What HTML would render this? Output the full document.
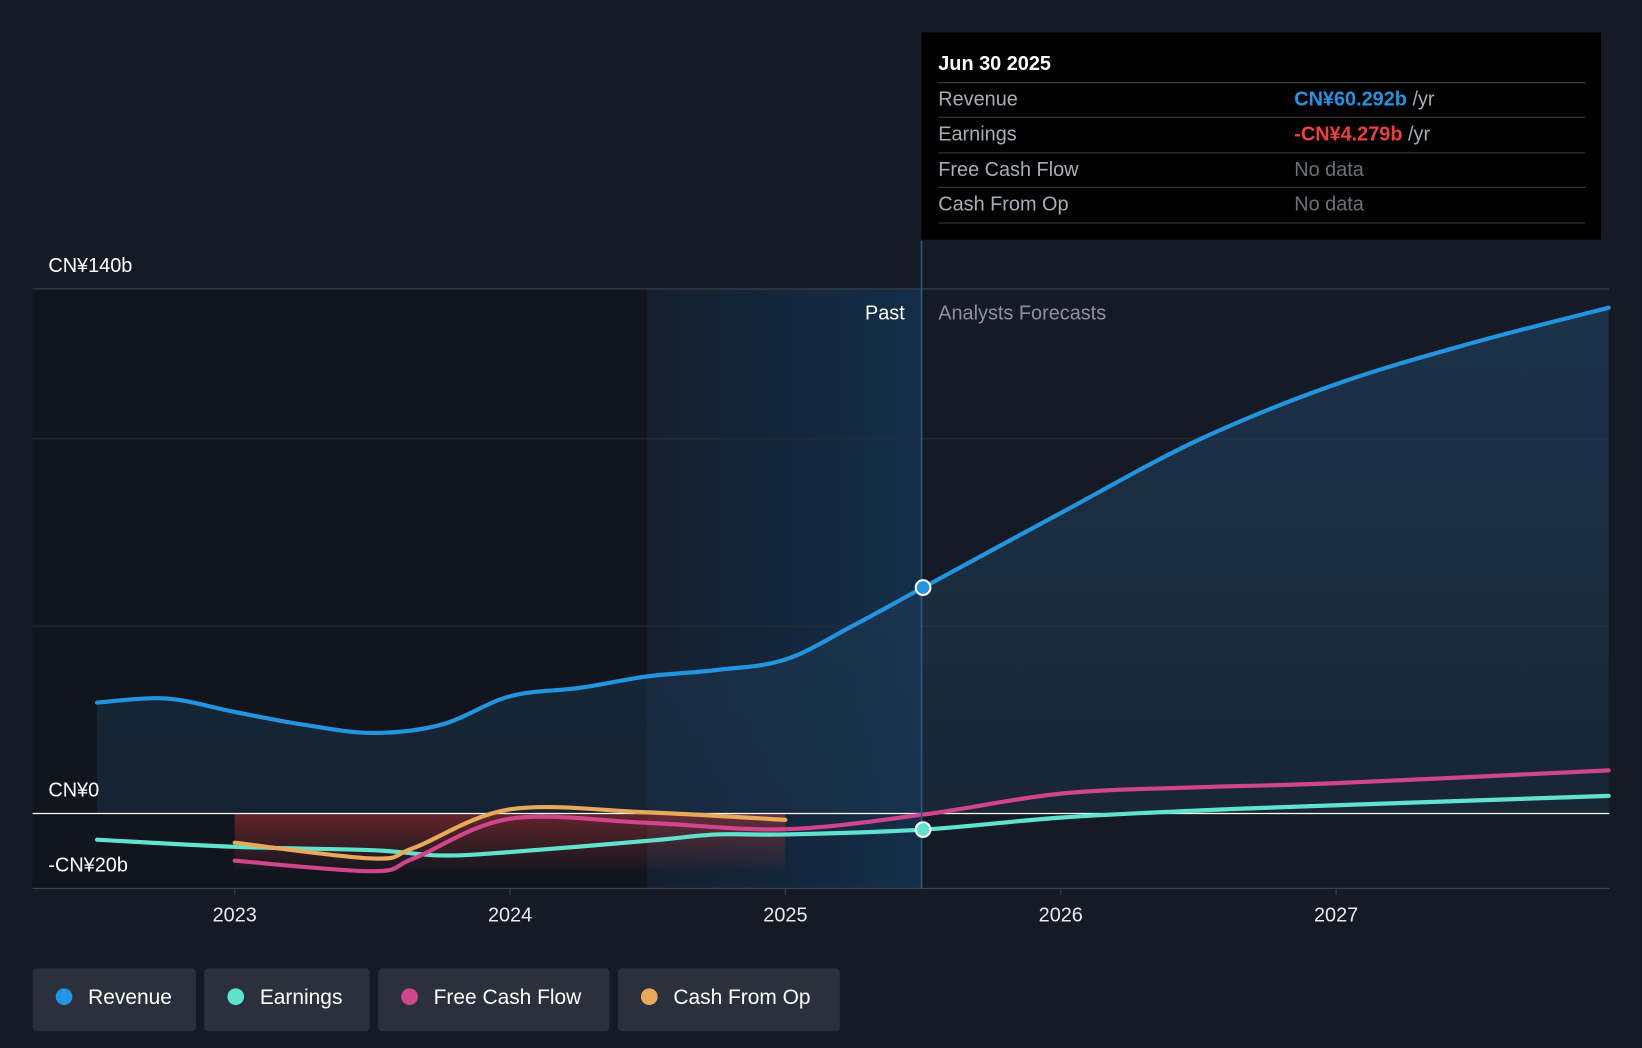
<!DOCTYPE html>
<html><head><meta charset="utf-8"><style>
html,body{margin:0;padding:0;background:#151b24;}
svg{display:block;font-family:"Liberation Sans",sans-serif;}
</style></head><body>
<svg id="chart" width="1642" height="1048" viewBox="0 0 1568 1001" xmlns="http://www.w3.org/2000/svg">
<defs>
<linearGradient id="revFill" x1="0" y1="0" x2="0" y2="1"><stop offset="0" stop-color="#1e3a56" stop-opacity="0.75"/><stop offset="1" stop-color="#1e3a56" stop-opacity="0.35"/></linearGradient>
<linearGradient id="redFill" x1="0" y1="0" x2="0" y2="1"><stop offset="0" stop-color="#d9393b" stop-opacity="0.75"/><stop offset="1" stop-color="#d9393b" stop-opacity="0.05"/></linearGradient>
<linearGradient id="pastHi" x1="0" y1="0" x2="1" y2="0"><stop offset="0" stop-color="#13253a" stop-opacity="0.5"/><stop offset="1" stop-color="#14314f" stop-opacity="0.9"/></linearGradient>
</defs>
<rect width="1568" height="1001" fill="#151b24"/>
<rect x="31" y="276" width="587" height="573" fill="#11161e"/>
<rect x="618" y="276" width="262" height="573" fill="url(#pastHi)"/>
<g id="grid"></g>
<g id="areas"></g>
<g id="lines"></g>
<line x1="880" y1="230" x2="880" y2="849" stroke="#2f5a80" stroke-width="1.5"/>
<text x="864" y="305" fill="#ffffff" font-size="19" text-anchor="end">Past</text>
<text x="896" y="305" fill="#8b929c" font-size="19">Analysts Forecasts</text>
<g id="ylabels"></g>
<g id="xlabels"></g>
<g id="dots"></g>
<g>
<rect x="880" y="31" width="649" height="198" fill="#000000"/>
<text x="896" y="67" fill="#fff" font-size="19" font-weight="bold">Jun 30 2025</text>
<line x1="896" y1="79" x2="1514" y2="79" stroke="#3a3f46"/>
<text x="896" y="101" fill="#a7adb5" font-size="19">Revenue</text>
<text x="1236" y="101" font-size="19"><tspan fill="#2394df" font-weight="bold">CN¥60.292b</tspan><tspan fill="#a7adb5"> /yr</tspan></text>
<line x1="896" y1="112" x2="1514" y2="112" stroke="#3a3f46"/>
<text x="896" y="134" fill="#a7adb5" font-size="19">Earnings</text>
<text x="1236" y="134" font-size="19"><tspan fill="#ee4040" font-weight="bold">-CN¥4.279b</tspan><tspan fill="#a7adb5"> /yr</tspan></text>
<line x1="896" y1="146" x2="1514" y2="146" stroke="#3a3f46"/>
<text x="896" y="168" fill="#a7adb5" font-size="19">Free Cash Flow</text>
<text x="1236" y="168" fill="#6b7178" font-size="19">No data</text>
<line x1="896" y1="179" x2="1514" y2="179" stroke="#3a3f46"/>
<text x="896" y="201" fill="#a7adb5" font-size="19">Cash From Op</text>
<text x="1236" y="201" fill="#6b7178" font-size="19">No data</text>
<line x1="896" y1="213" x2="1514" y2="213" stroke="#3a3f46"/>
</g>
<g id="legend"></g>
</svg>
<script>
const revT=[2022.5,2022.75,2023.0,2023.25,2023.5,2023.75,2024.0,2024.25,2024.5,2024.75,2025.0,2025.25,2025.5,2026.0,2026.5,2027.0,2027.5,2027.99];
const revV=[29.6,30.7,27.1,23.7,21.5,23.7,31.3,33.5,36.6,38.3,41.1,50.3,60.3,80.2,99.7,114.6,125.7,135];
const earnT=[2022.5,2023.0,2023.5,2023.75,2024.0,2024.5,2024.75,2025.0,2025.5,2026.0,2026.5,2027.0,2027.99];
const earnV=[-7.0,-8.9,-9.8,-11.2,-10.3,-7.3,-5.6,-5.6,-4.3,-1.1,0.8,2.2,4.7];
const fcfT=[2023.0,2023.5,2023.65,2024.0,2024.5,2025.0,2025.5,2026.0,2026.5,2027.0,2027.99];
const fcfV=[-12.6,-15.4,-12.0,-1.4,-2.5,-4.2,-0.3,5.3,7.0,8.1,11.5];
const cfoT=[2023.0,2023.5,2023.65,2024.0,2024.5,2025.0];
const cfoV=[-7.8,-12.0,-9.2,1.1,0.3,-1.7];
const yTicks=[140,0,-20];
const yTickLabels=["CN¥140b","CN¥0","-CN¥20b"];
const gridVals=[140,100,50];
const xTicks=[2023,2024,2025,2026,2027];
const legendNames=["Revenue","Earnings","Free Cash Flow","Cash From Op"];
const legendColors=["#2394df","#5fe3cf","#d0458b","#e9a95b"];

const NS="http://www.w3.org/2000/svg";
const X=t=>224+(t-2023)*263;
const Y=v=>777-v*(501/140);
function mk(tag,attrs,parent){const e=document.createElementNS(NS,tag);for(const k in attrs)e.setAttribute(k,attrs[k]);parent.appendChild(e);return e;}
function smooth(ts,vs){const p=ts.map((t,i)=>[X(t),Y(vs[i])]);let d=`M${p[0][0]},${p[0][1]}`;
for(let i=0;i<p.length-1;i++){const p0=p[i-1]||p[i],p1=p[i],p2=p[i+1],p3=p[i+2]||p2;
const c1=[p1[0]+(p2[0]-p0[0])/6,p1[1]+(p2[1]-p0[1])/6],c2=[p2[0]-(p3[0]-p1[0])/6,p2[1]-(p3[1]-p1[1])/6];
d+=` C${c1[0]},${c1[1]} ${c2[0]},${c2[1]} ${p2[0]},${p2[1]}`;}return d;}
const grid=document.getElementById('grid');
gridVals.forEach(v=>{const l=mk('line',{x1:31,x2:1537,y1:Y(v),y2:Y(v),stroke:v===140?'#3c434d':'#262d37','stroke-width':1},grid);

});
const bl=mk('line',{x1:31,x2:1537,y1:Y(-20),y2:Y(-20),stroke:'#3c434d'},grid);


const areas=document.getElementById('areas');
const rd=smooth(revT,revV);
const ra=mk('path',{d:rd+` L${X(revT[revT.length-1])},${Y(0)} L${X(revT[0])},${Y(0)} Z`,fill:'url(#revFill)'},areas);


const red=mk('rect',{x:X(2023),y:Y(0),width:X(2025)-X(2023),height:Y(-15)-Y(0),fill:'url(#redFill)',opacity:0.55},areas);


const zl=mk('line',{x1:31,x2:1537,y1:Y(0),y2:Y(0),stroke:'#ffffff','stroke-width':1.2},areas);


const lines=document.getElementById('lines');
[[earnT,earnV,'#5fe3cf','earnings-line'],[fcfT,fcfV,'#d0458b','free-cash-flow-line'],[cfoT,cfoV,'#e9a95b','cash-from-op-line'],[revT,revV,'#2394df','revenue-line']].forEach(s=>{
const p=mk('path',{d:smooth(s[0],s[1]),fill:'none',stroke:s[2],'stroke-width':4,'stroke-linecap':'round'},lines);

});
const yl=document.getElementById('ylabels');
yTicks.forEach((v,i)=>{const t=mk('text',{x:46,y:Y(v)-16,fill:'#fff','font-size':19,'font-weight':500},yl);t.textContent=yTickLabels[i];

});
const xl=document.getElementById('xlabels');
xTicks.forEach(v=>{const t=mk('text',{x:X(v),y:880,fill:'#e8eaed','font-size':19,'text-anchor':'middle'},xl);t.textContent=v;


const k=mk('line',{x1:X(v),x2:X(v),y1:849,y2:855,stroke:'#3c434d'},xl);

});
const dots=document.getElementById('dots');
[[60.3,'#2394df','revenue-marker'],[-4.3,'#5fe3cf','earnings-marker']].forEach(d=>{
const c=mk('circle',{cx:X(2025.5),cy:Y(d[0]),r:7,fill:d[1],stroke:'#fff','stroke-width':2},dots);

});
const lg=document.getElementById('legend');
const lx=[31,195,361,590],lw=[156,158,221,212];
legendNames.forEach((n,i)=>{const g=mk('g',{},lg);


mk('rect',{x:lx[i],y:925,width:lw[i],height:60,rx:4,fill:'#2a313c'},g);
mk('circle',{cx:lx[i]+30,cy:952,r:8,fill:legendColors[i]},g);
const t=mk('text',{x:lx[i]+53,y:959,fill:'#fff','font-size':20},g);t.textContent=n;});
</script>
</body></html>
